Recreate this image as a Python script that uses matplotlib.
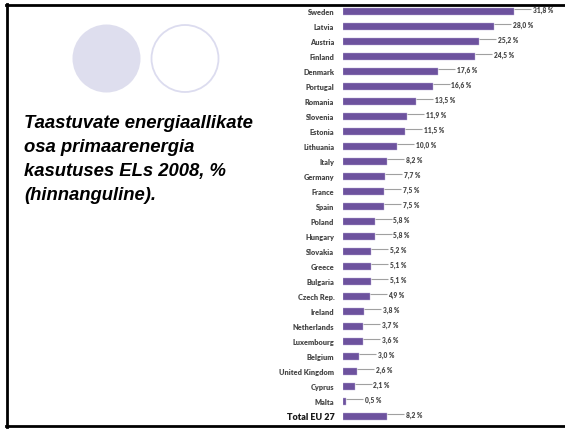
import matplotlib
matplotlib.use("Agg")
import matplotlib.pyplot as plt
from matplotlib.patches import Circle
from matplotlib.lines import Line2D

countries = ["Sweden", "Latvia", "Austria", "Finland", "Denmark", "Portugal", "Romania",
             "Slovenia", "Estonia", "Lithuania", "Italy", "Germany", "France", "Spain",
             "Poland", "Hungary", "Slovakia", "Greece", "Bulgaria", "Czech Rep.", "Ireland",
             "Netherlands", "Luxembourg", "Belgium", "United Kingdom", "Cyprus", "Malta",
             "Total EU 27"]
shares = [31.8, 28.0, 25.2, 24.5, 17.6, 16.6, 13.5, 11.9, 11.5, 10.0, 8.2, 7.7, 7.5, 7.5,
          5.8, 5.8, 5.2, 5.1, 5.1, 4.9, 3.8, 3.7, 3.6, 3.0, 2.6, 2.1, 0.5, 8.2]
title_lines = ["Taastuvate energiaallikate", "osa primaarenergia",
               "kasutuses ELs 2008, %", "(hinnanguline)."]

W, H = 565, 429
fig = plt.figure(figsize=(W / 100, H / 100), dpi=100)

# background "slide" layer in pixel coords
bg = fig.add_axes([0, 0, 1, 1])
bg.set_xlim(0, W)
bg.set_ylim(H, 0)
bg.axis("off")
bg.add_patch(Circle((106.5, 58.5), 34, facecolor="#dedeee", edgecolor="none"))
bg.add_patch(Circle((185, 58.5), 33.5, facecolor="white", edgecolor="#dcdcef", lw=1.3))
for i, line in enumerate(title_lines):
    bg.text(24, 124 + i * 23.8, line, fontsize=13.3, fontweight="bold", fontstyle="italic",
            family="Liberation Sans", va="center", ha="left", color="black")

# frame
fig.add_artist(Line2D([7 / W, 7 / W], [1 - 4 / H, 1 - 427 / H], color="black", lw=2))
fig.add_artist(Line2D([6 / W, 1], [1 - 5 / H, 1 - 5 / H], color="black", lw=2))
fig.add_artist(Line2D([6 / W, 1], [1 - 426 / H, 1 - 426 / H], color="black", lw=2))

# bar chart
px_per_pct = 5.38
left, top, bot = 343.3, 4.2, 424.2
ax = fig.add_axes([left / W, (H - bot) / H, 215 / W, (bot - top) / H])
ax.patch.set_alpha(0)
ypos = list(range(len(countries)))
ax.barh(ypos, shares, height=0.45, color="#6d529e", edgecolor="#b9aad6", linewidth=0.3)
ax.set_xlim(0, 215 / px_per_pct)
ax.set_ylim(len(countries) - 0.5, -0.5)
for s in ax.spines.values():
    s.set_visible(False)
ax.set_xticks([])
ax.set_yticks(ypos)
ax.set_yticklabels(countries, family="Lato", fontsize=5.3, fontweight="heavy", color="#484848")
ax.tick_params(axis="y", length=0, pad=6.5)
tl = ax.get_yticklabels()[-1]
tl.set_fontsize(6.5)
tl.set_color("#1a1a1a")

lead = 17 / px_per_pct
for y, v in zip(ypos, shares):
    ax.plot([v, v + lead], [y - 0.2, y - 0.2], color="#a0a0a0", lw=0.8, solid_capstyle="butt")
    ax.text(v + lead + 0.35, y - 0.12, f"{v:.1f} %".replace(".", ","), family="Lato",
            fontsize=4.8, fontweight="heavy", color="#484848", va="center", ha="left")

fig.savefig("out.png", dpi=100)
